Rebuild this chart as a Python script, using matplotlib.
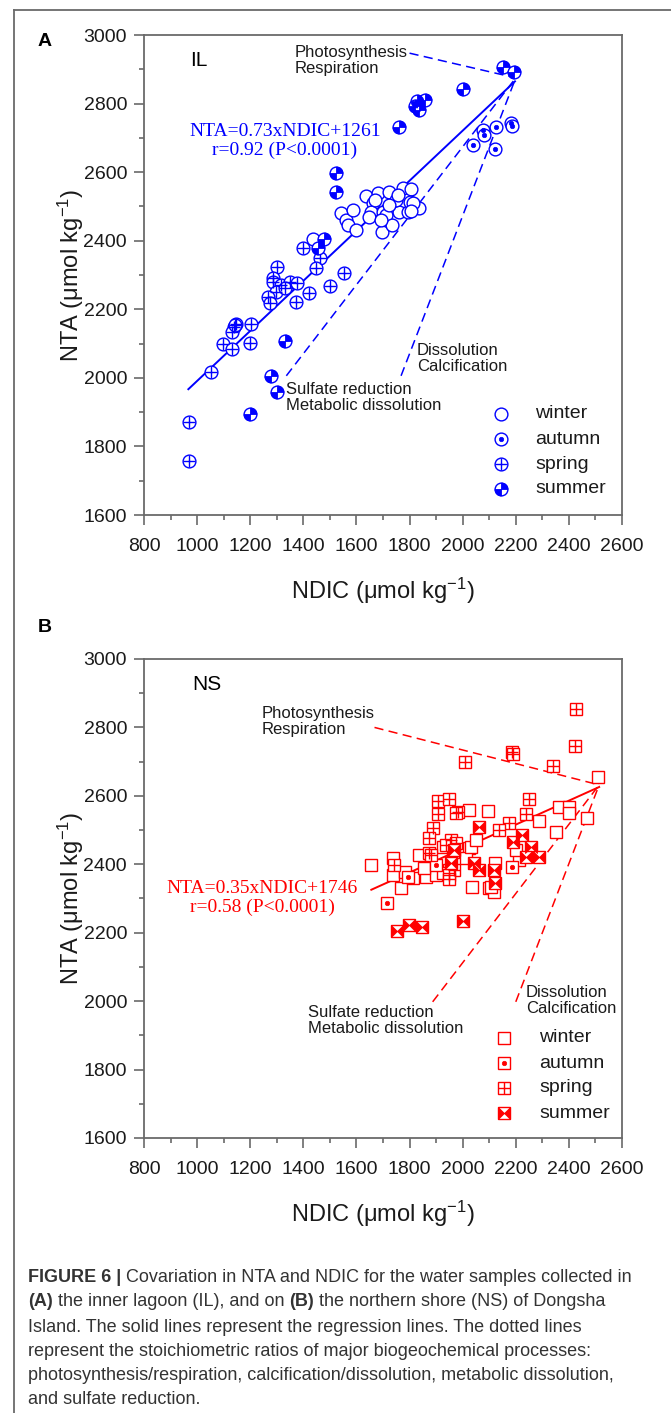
import numpy as np
import matplotlib
matplotlib.use("Agg")
import matplotlib.pyplot as plt
from matplotlib.path import Path
from matplotlib.lines import Line2D
from matplotlib import font_manager

# ---------------- data ----------------
# Panel A (inner lagoon, IL)
winter_A_x = [1543, 1562, 1568, 1599, 1587, 1637, 1680, 1724, 1774, 1806, 1662, 1656, 1649, 1699,
              1712, 1697, 1735, 1762, 1793, 1835, 1800, 1812, 1750, 1756, 1668, 1693, 1436, 1724, 1806]
winter_A_y = [2482, 2460, 2446, 2431, 2490, 2531, 2538, 2543, 2553, 2550, 2509, 2485, 2470, 2485,
              2475, 2426, 2446, 2485, 2485, 2496, 2514, 2509, 2519, 2533, 2519, 2460, 2405, 2504, 2488]
autumn_A_x = [2182, 2185, 2125, 2078, 2082, 2038, 2123]
autumn_A_y = [2742, 2735, 2733, 2723, 2708, 2679, 2668]
spring_A_x = [1399, 1464, 1446, 1299, 1553, 1284, 1284, 1317, 1349, 1376, 1296, 1267, 1273, 1371,
              1421, 1502, 1148, 1138, 1130, 1202, 1096, 1133, 1201, 1051, 969, 969, 1330, 1143]
spring_A_y = [2378, 2349, 2321, 2324, 2305, 2290, 2281, 2271, 2281, 2276, 2251, 2237, 2218, 2222,
              2247, 2268, 2157, 2147, 2135, 2157, 2098, 2084, 2101, 2016, 1872, 1758, 2262, 2155]
summer_A_x = [2150, 2194, 2000, 1827, 1860, 1835, 1822, 1762, 1524, 1524, 1476, 1455, 1330, 1280, 1299, 1198]
summer_A_y = [2906, 2891, 2842, 2808, 2810, 2781, 2793, 2733, 2597, 2543, 2405, 2378, 2108, 2004, 1960, 1895]

# Panel B (northern shore, NS)
winter_B_x = [2511, 2470, 2025, 2094, 2288, 2351, 2363, 2401, 2401, 1835, 1656, 1737, 2025, 2013,
              2123, 2213, 2200, 1925, 1768, 1812, 1862, 2035, 2100, 2119, 1950, 1737, 1900, 1781,
              1856, 1925, 2031, 2050]
winter_B_y = [2656, 2534, 2559, 2556, 2527, 2495, 2568, 2568, 2549, 2427, 2398, 2417, 2447, 2417,
              2403, 2412, 2442, 2451, 2330, 2359, 2364, 2334, 2330, 2320, 2383, 2369, 2369, 2378,
              2388, 2374, 2451, 2470]
autumn_B_x = [1714, 2185, 1900, 1793, 2106]
autumn_B_y = [2288, 2393, 2398, 2364, 2334]
spring_B_x = [2426, 2423, 2186, 2190, 2010, 2341, 1906, 1947, 1981, 1975, 1906, 2248, 2238, 1890,
              2175, 2135, 1875, 1956, 1875, 1881, 1963, 1937, 1743, 1969, 1950, 1947, 1975]
spring_B_y = [2853, 2747, 2729, 2722, 2700, 2688, 2585, 2591, 2554, 2549, 2546, 2590, 2547, 2505,
              2520, 2500, 2477, 2471, 2432, 2427, 2437, 2456, 2398, 2383, 2369, 2356, 2461]
summer_B_x = [2063, 2188, 2223, 2257, 2288, 2238, 1956, 2044, 2060, 2119, 1969, 1753, 1797, 1846, 2000, 2123]
summer_B_y = [2508, 2466, 2486, 2451, 2420, 2420, 2403, 2403, 2383, 2383, 2442, 2205, 2222, 2216, 2235, 2344]

# regression lines: slope, intercept, x-range
reg_A = (0.73, 1261, 967, 2197)
reg_B = (0.35, 1746, 1656, 2514)
# process (stoichiometric) lines: start points -> common end point
end_A = (2200, 2875)
proc_A_x = [1800, 1336, 1768]
proc_A_y = [2947, 2006, 2006]
end_B = (2514, 2632)
proc_B_x = [1668, 1887, 2200]
proc_B_y = [2800, 1998, 1998]

seasons = ["winter", "autumn", "spring", "summer"]
x_ticks = [800, 1000, 1200, 1400, 1600, 1800, 2000, 2200, 2400, 2600]
y_ticks = [1600, 1800, 2000, 2200, 2400, 2600, 2800, 3000]

# ---------------- style ----------------
names = {f.name for f in font_manager.fontManager.ttflist}
SANS = "Liberation Sans" if "Liberation Sans" in names else "DejaVu Sans"
SERIF = "Liberation Serif" if "Liberation Serif" in names else "DejaVu Serif"
NARROW = "Liberation Sans Narrow" if "Liberation Sans Narrow" in names else None

plt.rcParams["font.family"] = [SANS, "DejaVu Sans"]
plt.rcParams["mathtext.fontset"] = "custom"
plt.rcParams["mathtext.rm"] = SANS
plt.rcParams["mathtext.it"] = SANS + ":italic"
plt.rcParams["mathtext.bf"] = SANS + ":bold"

W, H = 671, 1413
fig = plt.figure(figsize=(W / 100, H / 100), dpi=100)

BLUE = "#0000ff"
RED = "#ff0000"
SPINE = "#6a6a6a"
TXT = "#1a1a1a"


def fx(px):
    return px / W


def fy(py):
    return 1 - py / H


AX_L, AX_R = 144, 622
axA = fig.add_axes([fx(AX_L), fy(515), (AX_R - AX_L) / W, (515 - 35) / H])
axB = fig.add_axes([fx(AX_L), fy(1138), (AX_R - AX_L) / W, (1138 - 659) / H])

# custom markers
quad = Path.make_compound_path(Path.wedge(0, 90), Path.wedge(180, 270))
bow = Path([(-1, -1), (-1, 1), (0, 0), (-1, -1), (1, -1), (1, 1), (0, 0), (1, -1)],
           [Path.MOVETO, Path.LINETO, Path.LINETO, Path.CLOSEPOLY,
            Path.MOVETO, Path.LINETO, Path.LINETO, Path.CLOSEPOLY])


def season_marks(ax, x, y, season, shape, color, ms, transform=None, clip=True):
    kw = dict(linestyle="none", color=color, clip_on=clip)
    if transform is not None:
        kw["transform"] = transform
    base = "o" if shape == "circle" else "s"
    ax.plot(x, y, marker=base, ms=ms, mfc="white", mec=color, mew=1.0, **kw)
    if season == "autumn":
        ax.plot(x, y, marker="o", ms=3.2, mfc=color, mec=color, mew=0.5, **kw)
    elif season == "spring":
        ax.plot(x, y, marker="+", ms=ms, mec=color, mew=1.0, **kw)
    elif season == "summer":
        ax.plot(x, y, marker=quad if shape == "circle" else bow, ms=ms, mfc=color,
                mec=color, mew=0.6, **kw)


def style_axis(ax):
    ax.set_xlim(800, 2600)
    ax.set_ylim(1600, 3000)
    ax.set_xticks(x_ticks)
    ax.set_yticks(y_ticks)
    ax.set_xticks(np.arange(900, 2600, 200), minor=True)
    ax.set_yticks(np.arange(1700, 3000, 200), minor=True)
    ax.set_xticklabels([str(v) for v in x_ticks])
    ax.set_yticklabels([str(v) for v in y_ticks])
    for s in ax.spines.values():
        s.set_color(SPINE)
        s.set_linewidth(1.3)
    ax.tick_params(which="both", direction="out", color=SPINE, width=1.2,
                   top=False, right=False, labelsize=14, labelcolor=TXT)
    ax.tick_params(which="major", length=7.2)
    ax.tick_params(which="minor", length=3.8)
    ax.tick_params(axis="x", which="major", pad=9)
    ax.tick_params(axis="y", which="major", pad=5)
    ax.set_xlabel(r"NDIC (μmol kg$^{\mathregular{-1}}$)", fontsize=17, color=TXT)
    ax.set_ylabel(r"NTA (μmol kg$^{\mathregular{-1}}$)", fontsize=17, color=TXT)
    ax.xaxis.set_label_coords(0.5, (515 - 576) / 480)
    ax.yaxis.set_label_coords((86 - AX_L) / (AX_R - AX_L), 0.5)
    ax.set_facecolor("white")


def draw_panel(ax, data, reg, end, proc_x, proc_y, color, shape, ms):
    for sx, sy in zip(proc_x, proc_y):
        ax.plot([sx, end[0]], [sy, end[1]], color=color, lw=1.1, dashes=(6, 3.5), zorder=2)
    k, b, x0, x1 = reg
    xr = np.array([x0, x1])
    ax.plot(xr, k * xr + b, color=color, lw=1.4, zorder=2)
    for season, (x, y) in zip(seasons, data):
        season_marks(ax, x, y, season, shape, color, ms)


style_axis(axA)
style_axis(axB)

draw_panel(axA, [(winter_A_x, winter_A_y), (autumn_A_x, autumn_A_y),
                 (spring_A_x, spring_A_y), (summer_A_x, summer_A_y)],
           reg_A, end_A, proc_A_x, proc_A_y, BLUE, "circle", 9.2)
draw_panel(axB, [(winter_B_x, winter_B_y), (autumn_B_x, autumn_B_y),
                 (spring_B_x, spring_B_y), (summer_B_x, summer_B_y)],
           reg_B, end_B, proc_B_x, proc_B_y, RED, "square", 8.6)


# ---------------- annotations ----------------
def t(px, py, s, **kw):
    return fig.text(fx(px), fy(py), s, **kw)


t(45, 42, "A", fontsize=14, fontweight="bold", ha="center", va="center", color="black")
t(45, 628, "B", fontsize=14, fontweight="bold", ha="center", va="center", color="black")

# panel A
t(190, 60, "IL", fontsize=15, ha="left", va="center", color="black")
t(295, 45, "Photosynthesis\nRespiration", fontsize=12, ha="left", va="top", color=TXT, linespacing=1.05)
t(285, 141, "NTA=0.73xNDIC+1261\nr=0.92 (P<0.0001)", fontsize=14, family=SERIF, ha="center",
  va="center", color=BLUE, linespacing=1.1)
t(417, 343, "Dissolution\nCalcification", fontsize=12, ha="left", va="top", color=TXT, linespacing=1.05)
t(286, 382, "Sulfate reduction\nMetabolic dissolution", fontsize=12, ha="left", va="top", color=TXT,
  linespacing=1.05)

# panel B
t(192, 685, "NS", fontsize=15, ha="left", va="center", color="black")
t(262, 706, "Photosynthesis\nRespiration", fontsize=12, ha="left", va="top", color=TXT, linespacing=1.05)
t(262, 898, "NTA=0.35xNDIC+1746\nr=0.58 (P<0.0001)", fontsize=14, family=SERIF, ha="center",
  va="center", color=RED, linespacing=1.1)
t(526, 985, "Dissolution\nCalcification", fontsize=12, ha="left", va="top", color=TXT, linespacing=1.05)
t(308, 1005, "Sulfate reduction\nMetabolic dissolution", fontsize=12, ha="left", va="top", color=TXT,
  linespacing=1.05)

# legends (drawn manually)
for ax, shape, color, mx, ys, lx, ms, top, bot in [
        (axA, "circle", BLUE, 501, [414, 439, 464, 489], 535, 9.2, 35, 515),
        (axB, "square", RED, 504, [1038, 1063, 1088, 1113], 539, 8.6, 659, 1138)]:
    for season, py in zip(seasons, ys):
        axx = (mx - AX_L) / (AX_R - AX_L)
        axy = (bot - py) / (bot - top)
        season_marks(ax, [axx], [axy], season, shape, color, ms, transform=ax.transAxes, clip=False)
        t(lx, py, season, fontsize=14, ha="left", va="center", color=TXT)

# figure frame (left & top lines)
fig.add_artist(Line2D([fx(14), fx(14)], [fy(10), 0], transform=fig.transFigure, color=SPINE, lw=1.3))
fig.add_artist(Line2D([fx(14), 1], [fy(10), fy(10)], transform=fig.transFigure, color=SPINE, lw=1.3))

# ---------------- caption ----------------
cap_lines = [
    [("FIGURE 6 |", True), ("Covariation in NTA and NDIC for the water samples collected in", False)],
    [("(A)", True), ("the inner lagoon (IL), and on", False), ("(B)", True),
     ("the northern shore (NS) of Dongsha", False)],
    [("Island. The solid lines represent the regression lines. The dotted lines", False)],
    [("represent the stoichiometric ratios of major biogeochemical processes:", False)],
    [("photosynthesis/respiration, calcification/dissolution, metabolic dissolution,", False)],
    [("and sulfate reduction.", False)],
]
cap_y = [1277, 1302, 1327, 1352, 1376, 1400]
if NARROW:
    cap_fam, cap_size = [NARROW, SANS], 14.3
else:
    cap_fam, cap_size = [SANS], 13.0
CAP = "#333333"
renderer = fig.canvas.get_renderer()
probe = fig.text(0, 0, "a a", fontsize=cap_size, family=cap_fam)
probe2 = fig.text(0, 0, "aa", fontsize=cap_size, family=cap_fam)
space_w = probe.get_window_extent(renderer).width - probe2.get_window_extent(renderer).width
probe.remove()
probe2.remove()
for runs, py in zip(cap_lines, cap_y):
    x = 28.0
    for s, bold in runs:
        tt = fig.text(fx(x), fy(py), s, fontsize=cap_size, family=cap_fam,
                      fontweight="bold" if bold else "normal", ha="left", va="center", color=CAP)
        x += tt.get_window_extent(renderer).width + space_w

fig.savefig("out.png", dpi=100, facecolor="white")
